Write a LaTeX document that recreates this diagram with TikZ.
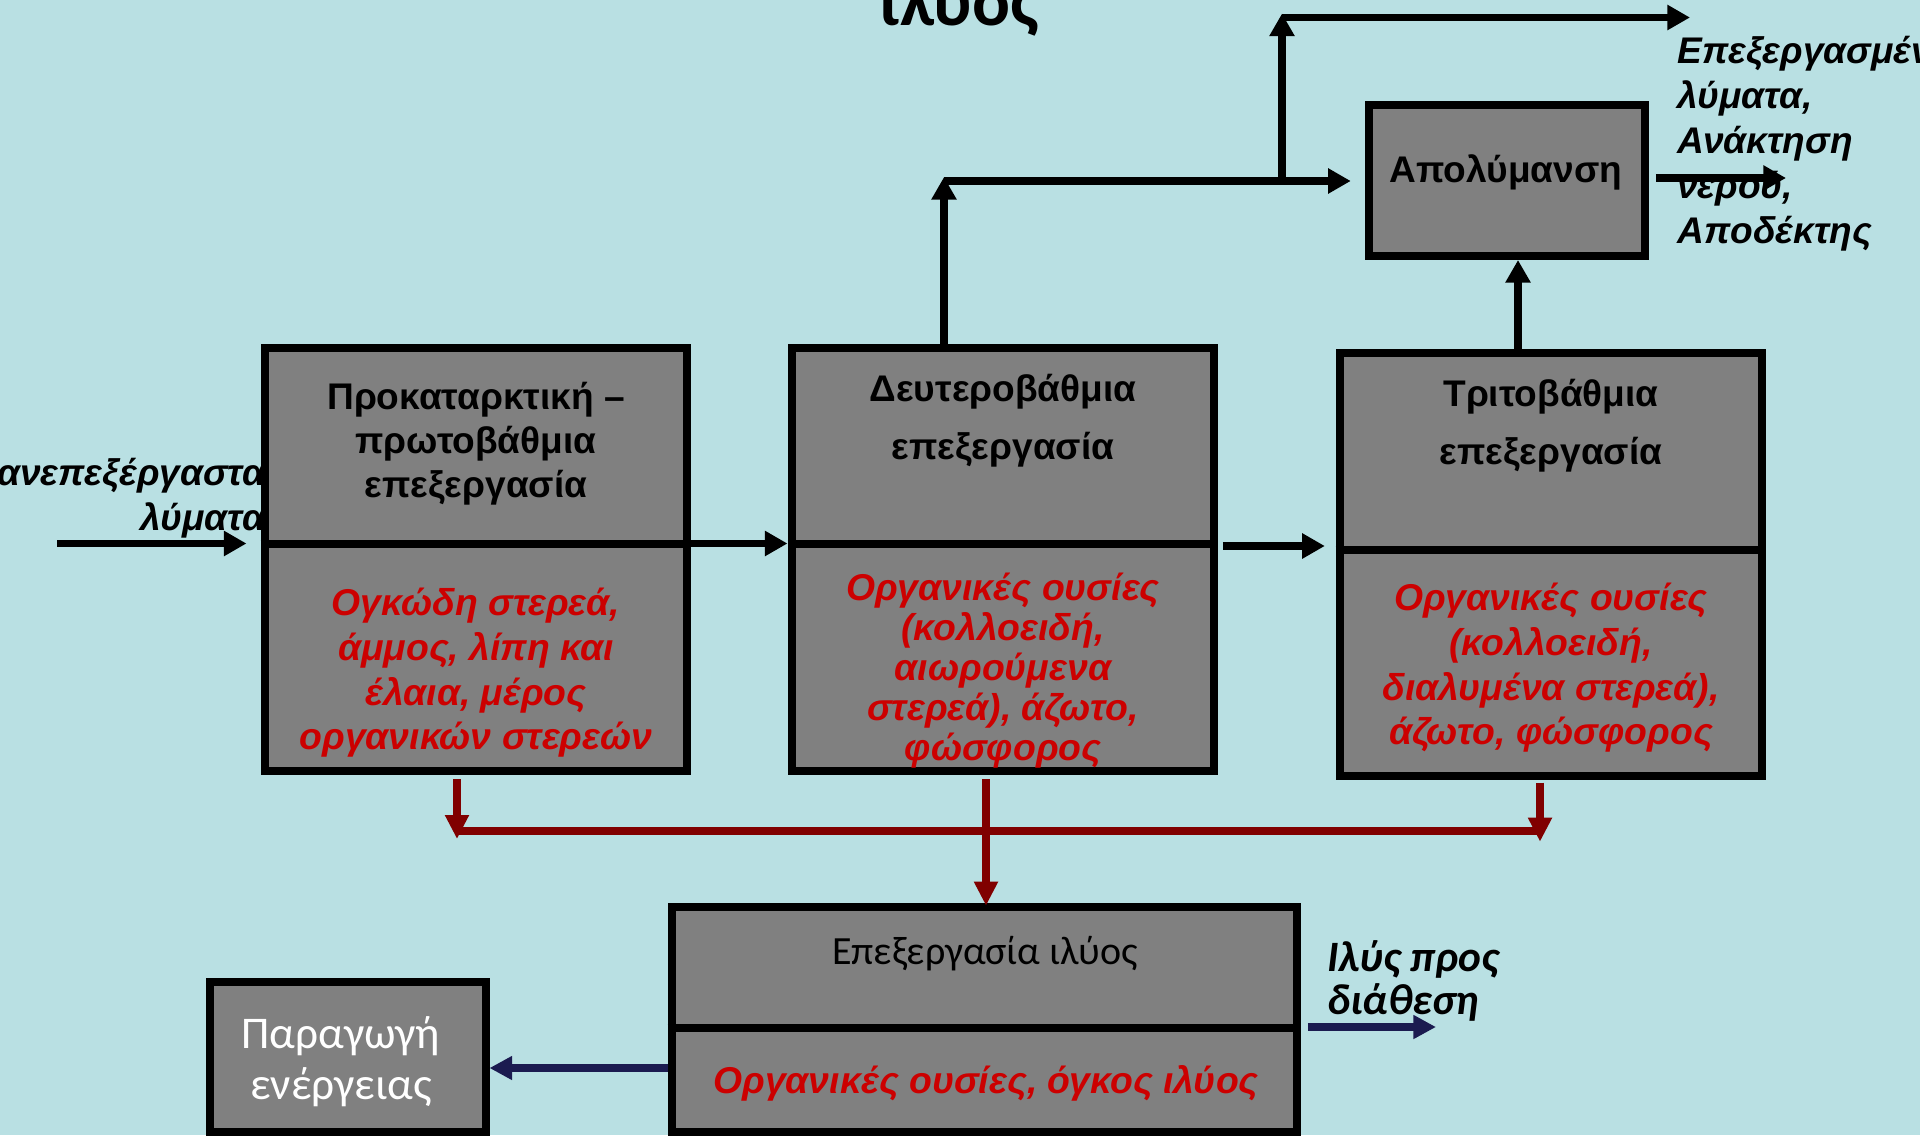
\documentclass[tikz,border=0pt]{standalone}
\usepackage{fontspec}
\setmainfont{Liberation Sans}
\newfontfamily\calfont{Carlito}
\usetikzlibrary{arrows.meta,calc}
\definecolor{bg}{RGB}{185,224,227}
\definecolor{boxgray}{RGB}{128,128,128}
\definecolor{txtred}{RGB}{204,0,0}
\definecolor{darkred}{RGB}{128,0,0}
\definecolor{navyblue}{RGB}{27,27,80}
\newcommand{\fs}[2]{\fontsize{#1}{#2}\selectfont}
\begin{document}
\begin{tikzpicture}[x=0.75pt,y=-0.75pt,
  box/.style={draw=black,fill=boxgray,line width=6pt,rectangle,inner sep=0pt},
  divider/.style={draw=black,line width=6pt},
  blk/.style={draw=black,line width=5.5pt,-{Triangle[length=17pt,width=18pt]}},
  redarr/.style={draw=darkred,line width=6pt,-{Triangle[length=18pt,width=17pt]}},
  redline/.style={draw=darkred,line width=6pt},
  bluearr/.style={draw=navyblue,line width=6pt,-{Triangle[length=17pt,width=17pt]}},
  ttl/.style={font=\bfseries\fs{27.8pt}{33pt},align=center,inner sep=0pt,text=black},
  redtxt/.style={font=\bfseries\itshape\fs{28pt}{33.5pt},align=center,inner sep=0pt,text=txtred},
  lbl/.style={font=\bfseries\itshape\fs{27.8pt}{33.75pt},inner sep=0pt,text=black}
]
\path[use as bounding box,fill=bg] (0,0) rectangle (1920,1135);
\clip (0,0) rectangle (1920,1135);

% title fragment
\node[font=\calfont\bfseries\fs{53pt}{60pt},anchor=base west,inner sep=0pt] (title) at (879,25) {ιλύος};

% input label (partly hidden behind first box)
\node[lbl,anchor=east,align=right] (inlbl) at (266,498.5) {ανεπεξέργαστα\\λύματα};

% boxes
\node[box,minimum width=422.5*0.75pt,minimum height=423*0.75pt] (b1) at (475.75,559) {};
\node[box,minimum width=422*0.75pt,minimum height=423*0.75pt] (b2) at (1002.5,559) {};
\node[box,minimum width=422*0.75pt,minimum height=423*0.75pt] (b3) at (1550.5,564.5) {};
\node[box,minimum width=276.5*0.75pt,minimum height=151*0.75pt] (apo) at (1507,180.5) {};
\node[box,minimum width=625*0.75pt,minimum height=225*0.75pt] (sl) at (984,1019.5) {};
\node[box,minimum width=275.5*0.75pt,minimum height=149.5*0.75pt] (en) at (347.75,1057) {};

\coordinate (dv1) at (0,543.5);
\coordinate (dv3) at (0,549.5);
\coordinate (dvs) at (0,1027.5);
\draw[divider] (b1.west |- dv1) -- (b1.east |- dv1);
\draw[divider] (b2.west |- dv1) -- (b2.east |- dv1);
\draw[divider] (b3.west |- dv3) -- (b3.east |- dv3);
\draw[divider] (sl.west |- dvs) -- (sl.east |- dvs);

% texts in boxes
\node[ttl] (t1) at (476,444) {Προκαταρκτική –\\πρωτοβάθμια\\επεξεργασία};
\node[redtxt] (r1) at (476,673) {Ογκώδη στερεά,\\άμμος, λίπη και\\έλαια, μέρος\\οργανικών στερεών};
\node[ttl,font=\bfseries\fs{27.8pt}{43.5pt}] (t2) at (1003,421) {Δευτεροβάθμια\\επεξεργασία};
\node[redtxt,font=\bfseries\itshape\fs{28pt}{30pt}] (r2) at (1003,671) {Οργανικές ουσίες\\(κολλοειδή,\\αιωρούμενα\\στερεά), άζωτο,\\φώσφορος};
\node[ttl,font=\bfseries\fs{27.8pt}{43.5pt}] (t3) at (1551,426) {Τριτοβάθμια\\επεξεργασία};
\node[redtxt] (r3) at (1551,668) {Οργανικές ουσίες\\(κολλοειδή,\\διαλυμένα στερεά),\\άζωτο, φώσφορος};
\node[ttl] (ta) at (1506,172) {Απολύμανση};
\node[font=\calfont\fs{30pt}{36pt},inner sep=0pt] (ts) at (985,954) {Επεξεργασία ιλύος};
\node[redtxt] (rs) at (986,1083) {Οργανικές ουσίες, όγκος ιλύος};
\node[font=\calfont\fs{34pt}{38pt},align=center,inner sep=0pt,text=white] (te) at (341,1062) {Παραγωγή\\ενέργειας};

% outside labels
\node[lbl,anchor=west,align=left] (outlbl) at (1677,143.5) {Επεξεργασμένα\\λύματα,\\Ανάκτηση\\νερού,\\Αποδέκτης};
\node[font=\calfont\bfseries\itshape\fs{32.5pt}{32pt},anchor=west,align=left,inner sep=0pt] (sllbl) at (1327,981) {Ιλύς προς\\διάθεση};

% black connectors
\coordinate (inS) at (57,543.5);
\draw[blk] (inS) -- ([xshift=-10.5pt]b1.west |- inS);
\draw[blk] (b1.east |- dv1) -- (b2.west |- dv1);
\coordinate (m23) at (0,546);
\draw[blk] ([xshift=4pt]b2.east |- m23) -- ([xshift=-8pt]b3.west |- m23);
\coordinate (j1) at (944,181);
\coordinate (j2) at (1282,181);
\coordinate (j3) at (1282,17.5);
\coordinate (outT) at (1690,17.5);
\draw[blk] (b2.north -| j1) -- ([yshift=3pt]j1);
\draw[blk] (j1) -- ([xshift=-10.5pt]apo.west |- j1);
\draw[blk] (j2) -- ([yshift=3pt]j3);
\draw[blk] (j3) -- (outT);
\coordinate (v3) at (1518,0);
\draw[blk] (b3.north -| v3) -- (apo.south -| v3);
\coordinate (outR) at (1786,178);
\draw[blk] ([xshift=5pt]apo.east |- outR) -- (outR);

% red connectors
\coordinate (barL) at (457,831);
\coordinate (barR) at (1540,831);
\coordinate (mid) at (986,831);
\draw[redline] (barL) -- (barR);
\draw[redarr] ([yshift=-3.5pt]b1.south -| barL) -- ([yshift=-6pt]barL);
\draw[redarr] ([yshift=-2pt]b3.south -| barR) -- ([yshift=-8pt]barR);
\draw[redarr] ([yshift=-3.5pt]b2.south -| mid) -- ([yshift=-2pt]sl.north -| mid);

% blue connectors
\coordinate (bl) at (0,1068);
\draw[bluearr] (sl.west |- bl) -- (en.east |- bl);
\coordinate (outS) at (1436,1027);
\draw[bluearr] ([xshift=5.5pt]sl.east |- outS) -- (outS);
\end{tikzpicture}
\end{document}
